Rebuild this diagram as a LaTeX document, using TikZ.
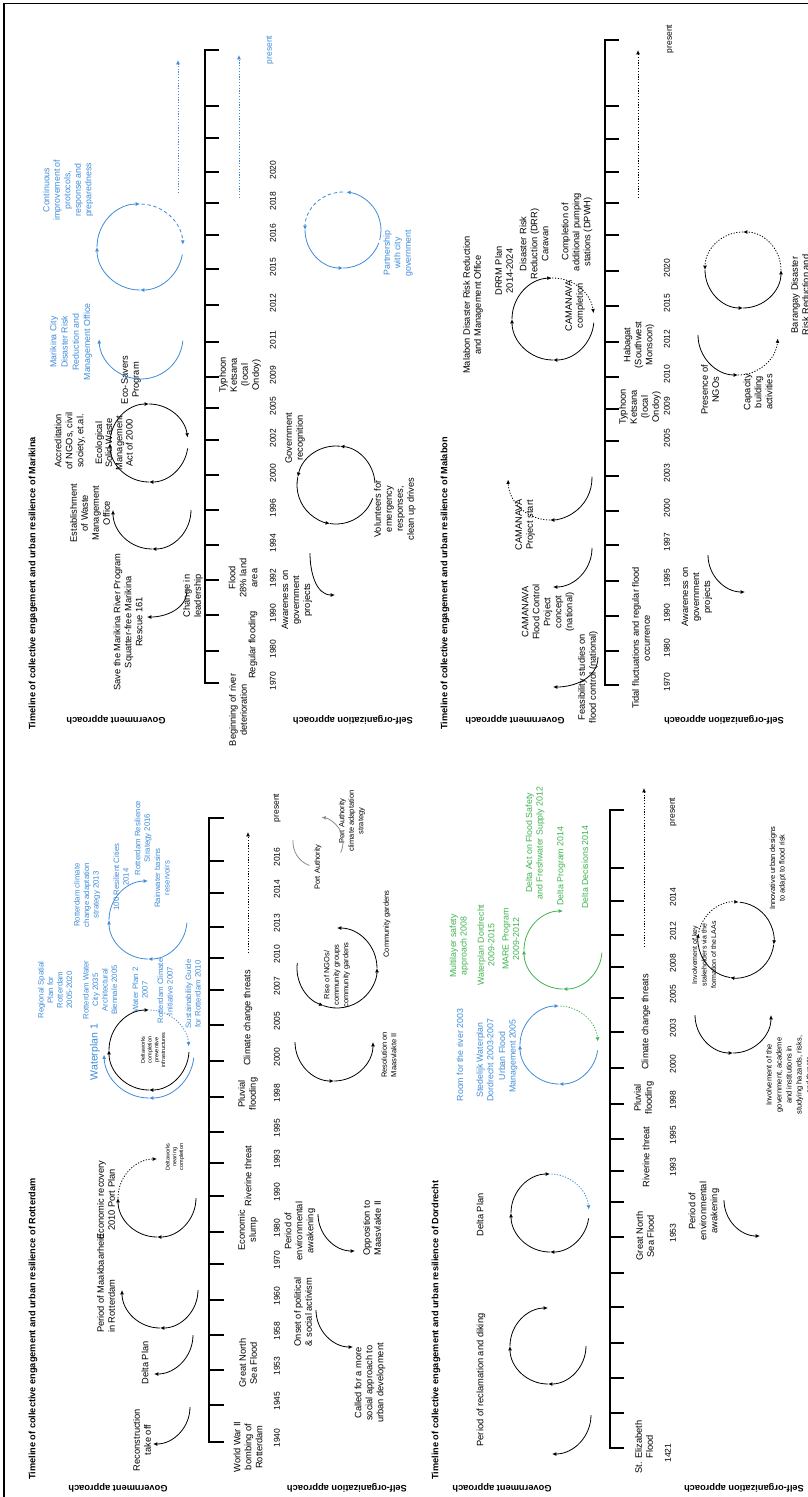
\documentclass[tikz,border=0pt]{standalone}
\usepackage{fontspec}
\setmainfont{Liberation Sans}
\usetikzlibrary{arrows.meta}
\definecolor{bl}{HTML}{3D8BD9}
\definecolor{gr}{HTML}{3EB34F}
\definecolor{gy}{HTML}{8C8C8C}
\newcommand\carc[6][]{\draw[cy,#1] (#2,-#3) ++(#5:#4) arc[start angle=#5,end angle=#6,radius=#4];}
\tikzset{
  lab/.style={font=\fontsize{9.3}{11}\selectfont, align=center, rotate=90, inner sep=0pt},
  blab/.style={lab, text=bl, font=\fontsize{8.8}{10.5}\selectfont},
  rblab/.style={lab, text=bl, font=\fontsize{7.8}{9.5}\selectfont},
  glab/.style={lab, text=gr, font=\fontsize{8.8}{10.5}\selectfont},
  slab/.style={lab, font=\fontsize{7.5}{9.5}\selectfont},
  tlab/.style={lab, font=\fontsize{5.5}{6.8}\selectfont},
  ttl/.style={font=\bfseries\fontsize{9.2}{11}\selectfont, rotate=90, inner sep=0pt},
  apr/.style={font=\bfseries\fontsize{9.3}{11}\selectfont, rotate=180, inner sep=0pt},
  yr/.style={font=\fontsize{8.5}{10}\selectfont, rotate=90, inner sep=0pt},
  axl/.style={line width=1.5pt},
  cy/.style={line width=0.8pt, -{Latex[length=4.3pt,width=3.8pt]}},
  dt/.style={dash pattern=on 1.2pt off 1.6pt},
  ds/.style={dash pattern=on 3.5pt off 2.5pt},
}
\begin{document}
\begin{tikzpicture}[x=1pt,y=1pt]
\useasboundingbox (0,0) rectangle (808,-1497);
\draw[line width=1.5pt] (4,-1497) -- (4,-3.5) -- (808,-3.5);

% ================= ROTTERDAM =================
\node[ttl,anchor=west] (Rt) at (33,-1480) {Timeline of collective engagement and urban resilience of Rotterdam};
\node[apr] (Rg) at (118,-1488) {Government approach};
\node[apr] (Rs) at (347,-1488) {Self-organization approach};
\draw[axl] (224,-1442) -- (209,-1442) -- (209,-818) -- (224,-818);
\foreach \t in {1405,1370,1335,1300,1264,1232,1196,1163,1132,1097,1061,1025,990,958,927,893,861}
  \draw[axl] (209,-\t) -- (224,-\t);
\foreach \t/\yv in {1442/1940,1405/1945,1370/1953,1335/1958,1300/1960,1264/1970,1232/1980,1196/1990,1163/1993,1132/1995,1097/1998,1061/2000,1025/2005,990/2007,958/2010,927/2013,893/2014,861/2016}
  \node[yr] (Ry\yv) at (277,-\t+4) {\yv};
\node[yr] (Rpres) at (277,-808) {present};

\node[lab] (R1) at (142,-1440) {Reconstruction\\take off};
\node[lab] (R2) at (145,-1363) {Delta Plan};
\node[lab, align=left, anchor=north west] (R3) at (97,-1333) {Period of Maakbaarheid\\in Rotterdam};
\node[lab] (R4) at (106,-1200) {Economic recovery\\2010 Port Plan};
\node[tlab] (R5) at (175,-1157) {Deltaworks\\nearing\\completion};
\node[tlab] (R6) at (153,-1050) {Deltaworks\\completion\\preventive\\infrastructures};
\node[lab, text=bl, font=\fontsize{10.5}{12}\selectfont] (R7) at (95,-1052) {Waterplan 1};
\node[rblab] (R8) at (55,-990) {Regional Spatial\\Plan for\\Rotterdam\\2005-2020};
\node[rblab] (R9) at (100,-990) {Rotterdam Water\\City 2035\\Architectural\\Biennale 2005};
\node[rblab] (R10) at (140,-990) {Water Plan 2\\2007};
\node[rblab] (R11) at (165,-991) {Rotterdam Climate\\Initiative 2007};
\node[rblab] (R12) at (193,-994) {Sustainability Guide\\for Rotterdam 2010};
\node[rblab] (R13) at (87,-895) {Rotterdam climate\\change adaptation\\strategy 2013};
\node[rblab] (R14) at (121,-877) {100 Resilient Cities\\2014};
\node[rblab] (R15) at (143,-838) {Rotterdam Resilience\\Strategy 2016};
\node[rblab] (R16) at (162,-878) {Rainwater basins\\reservoirs};

\node[lab] (R20) at (248,-1447) {World War II\\bombing of\\Rotterdam};
\node[lab] (R21) at (248,-1363) {Great North\\Sea Flood};
\node[lab] (R22) at (248,-1230) {Economic\\slump};
\node[lab] (R23) at (248,-1176) {Riverine threat};
\node[lab] (R24) at (248,-1094) {Pluvial\\flooding};
\node[lab] (R25) at (248,-1018) {Climate change threats};
\coordinate (R26a) at (248,-953); \coordinate (R26b) at (248,-832);
\draw[cy,dt] (R26a) -- (R26b);

\node[lab] (R30) at (303,-1312) {Onset of political\\\& social activism};
\node[lab] (R31) at (370,-1383) {Called for a more\\social approach to\\urban development};
\node[lab] (R32) at (300,-1231) {Period of\\environmental\\awakening};
\node[lab] (R33) at (372,-1228) {Opposition to\\Maasvlakte II};
\node[slab] (R34) at (389,-1055) {Resolution on\\Maasvlakte II};
\node[slab] (R35) at (337,-975) {Rise of NGOs/\\community groups\\community gardens};
\node[slab] (R36) at (387,-924) {Community gardens};
\node[slab] (R37) at (318,-867) {Port Authority};
\node[slab] (R38) at (352,-821) {Port Authority\\climate adaptation\\strategy};

% arcs Rotterdam government
\carc{153}{1407}{37}{0}{-90}
\carc{154}{1335}{39}{0}{-90}
\carc{160}{1290}{38}{0}{-90}
\carc{160}{1290}{38}{-90}{-180}
\carc{157}{1198}{39}{0}{-90}
\carc{157}{1198}{39}{-90}{-180}
\carc[dt]{157}{1198}{39}{180}{90}
\carc{149}{1050}{40}{-3}{-90}
\carc{149}{1050}{40}{-90}{-180}
\carc{149}{1050}{40}{-180}{-270}
\carc[bl,dt]{149}{1050}{40}{88}{5}
\carc[bl]{149}{1053}{45}{-6}{-90}
\carc[bl]{149}{1053}{45}{-90}{-178}
\carc[bl]{148}{920}{39}{-4}{-90}
\carc[bl]{148}{920}{39}{-90}{-180}
\carc[bl]{148}{920}{39}{-180}{-270}
% arcs Rotterdam self-organization
\carc{353}{1310}{37}{180}{270}
\carc{355}{1214}{37}{180}{270}
\carc{334}{1042}{39}{180}{270}
\carc{334}{1042}{39}{270}{360}
\carc{337}{968}{40}{173}{250}
\carc{337}{968}{40}{250}{360}
\carc{337}{968}{40}{0}{90}
\carc[gy,-]{318}{842}{25}{175}{250}
\carc[gy]{318}{842}{25}{-25}{82}

% ================= DORDRECHT =================
\node[ttl,anchor=west] (Dt) at (436,-1480) {Timeline of collective engagement and urban resilience of Dordrecht};
\node[apr] (Dg) at (502,-1488) {Government approach};
\node[apr] (Ds) at (744,-1488) {Self-organization approach};
\draw[axl] (624,-1448) -- (610,-1448) -- (610,-810) -- (624,-810);
\foreach \t in {1413,1378,1343,1307,1273,1237,1202,1171,1139,1104,1068,1032,998,967,935,901,868}
  \draw[axl] (610,-\t) -- (624,-\t);
\foreach \t/\yv in {1237/1953,1171/1993,1139/1995,1104/1998,1068/2000,1032/2003,998/2005,967/2008,935/2012,901/2014}
  \node[yr] (Dy\yv) at (673,-\t+4) {\yv};
\node[yr] (Dy1421) at (668,-1453) {1421};
\node[yr] (Dpres) at (673,-812) {present};

\node[lab] (D1) at (481,-1380) {Period of reclamation and diking};
\node[lab] (D2) at (480,-1215) {Delta Plan};
\node[blab] (D3) at (460,-1055) {Room for the river 2003};
\node[blab] (D4) at (485,-1060) {Stedelijk Waterplan\\Dordrecht 2003-2007};
\node[blab] (D5) at (508,-1056) {Urban Flood\\Management 2005};
\node[glab] (D6) at (459,-946) {Multilayer safety\\approach 2008};
\node[glab] (D7) at (486,-945) {Waterplan Dordrecht\\2009-2015};
\node[glab] (D8) at (511,-939) {MARE Program\\2009-2012};
\node[glab] (D9) at (535,-843) {Delta Act on Flood Safety\\and Freshwater Supply 2012};
\node[glab] (D10) at (561,-866) {Delta Program 2014};
\node[glab] (D11) at (585,-867) {Delta Decisions 2014};

\node[lab] (D20) at (644,-1447) {St. Elizabeth\\Flood};
\node[lab] (D21) at (645,-1236) {Great North\\Sea Flood};
\node[lab] (D22) at (646,-1157) {Riverine threat};
\node[lab] (D23) at (644,-1098) {Pluvial\\flooding};
\node[lab] (D24) at (646,-1022) {Climate change threats};
\coordinate (D25a) at (644,-947); \coordinate (D25b) at (644,-788);
\draw[cy,dt] (D25a) -- (D25b);

\node[lab] (D30) at (704,-1211) {Period of\\environmental\\awakening};
\node[slab, font=\fontsize{7.5}{10}\selectfont] (D31) at (789,-1075) {Involvement of the\\government, academe\\and institutions in\\studying hazards, risks,\\and threats};
\node[slab, font=\fontsize{7}{9.5}\selectfont] (D32) at (704,-955) {Involvement of key\\stakeholders via the\\formation of the LAAs};
\node[slab] (D33) at (778,-868) {Innovative urban designs\\to adapt to flood risk};

% arcs Dordrecht government
\carc{552}{1415}{39}{0}{-90}
\carc{548}{1346}{38}{0}{-90}
\carc{548}{1346}{38}{-90}{-180}
\carc{548}{1346}{38}{-180}{-270}
\carc{550}{1213}{39}{-8}{-90}
\carc{550}{1213}{39}{-90}{-180}
\carc{550}{1213}{39}{-180}{-270}
\carc[bl,dt]{550}{1213}{39}{88}{5}
\carc[bl]{559}{1045}{39}{-8}{-90}
\carc[bl]{559}{1045}{39}{-90}{-180}
\carc[bl]{559}{1045}{39}{-180}{-270}
\carc[gr,dt]{559}{1045}{39}{88}{5}
\carc[gr]{563}{950}{39}{-4}{-90}
\carc[gr]{563}{950}{39}{-90}{-180}
\carc[gr]{563}{950}{39}{-180}{-270}
% arcs Dordrecht self-organization
\carc{760}{1200}{36}{180}{270}
\carc{733}{1015}{38}{180}{270}
\carc{733}{1015}{38}{270}{360}
\carc[dt]{736}{940}{38}{168}{86}
\carc{736}{940}{38}{84}{-7}
\carc{736}{940}{38}{-7}{-99}
\carc{736}{940}{38}{-99}{-190}

% ================= MARIKINA =================
\node[ttl,anchor=west] (Mt) at (33,-730) {Timeline of collective engagement and urban resilience of Marikina};
\node[apr] (Mg) at (116,-720) {Government approach};
\node[apr] (Ms) at (353,-720) {Self-organization approach};
\draw[axl] (219,-683) -- (205,-683) -- (205,-50) -- (219,-50);
\foreach \t in {651,615,580,545,510,475,440,408,377,342,305,269,235,203,172,138,106}
  \draw[axl] (205,-\t) -- (219,-\t);
\foreach \t/\yv in {683/1970,651/1980,615/1990,580/1992,545/1994,510/1996,475/2000,440/2002,408/2005,377/2009,342/2011,305/2012,269/2015,235/2016,203/2018,172/2020}
  \node[yr] (My\yv) at (273,-\t+2) {\yv};
\node[yr, text=bl] (Mpres) at (270,-50) {present};

\node[lab] (M1) at (128,-622) {Save the Marikina River Program\\Squatter-free Marikina\\Rescue 161};
\node[lab] (M2) at (90,-513) {Establishment\\of Waste\\Management\\Office};
\node[lab] (M3) at (70,-441) {Accreditation\\of NGOs, civil\\society, et.al.};
\node[lab, font=\fontsize{9.3}{10.2}\selectfont] (M4) at (114,-443) {Ecological\\Solid Waste\\Management\\Act of 2000};
\node[lab] (M5) at (131,-380) {Eco-Savers\\Program};
\node[blab, font=\fontsize{8.8}{11.3}\selectfont] (M6) at (71,-342) {Marikina City\\Disaster Risk\\Reduction and\\Management Office};
\node[blab] (M7) at (68,-190) {Continuous\\improvement of\\protocols,\\response and\\preparedness};

\node[lab] (M20) at (238,-710) {Beginning of river\\deterioration};
\node[lab] (M21) at (253,-645) {Regular flooding};
\node[lab] (M22) at (243,-578) {Flood\\28\% land\\area};
\node[lab] (M23) at (193,-596) {Change in\\leadership};
\node[lab] (M24) at (240,-375) {Typhoon\\Ketsana\\(local\\Ondoy)};
\coordinate (M25a) at (178,-193); \coordinate (M25b) at (178,-60);
\draw[cy,dt,bl] (M25a) -- (M25b);
\coordinate (M26a) at (239,-198); \coordinate (M26b) at (239,-55);
\draw[cy,dt,bl] (M26a) -- (M26b);

\node[lab] (M30) at (297,-600) {Awareness on\\government\\projects};
\node[lab] (M31) at (395,-509) {Volunteers for\\emergency\\responses,\\clean up drives};
\node[lab] (M32) at (295,-438) {Government\\recognition};
\node[blab] (M33) at (398,-253) {Partnership\\with city\\government};

% arcs Marikina government
\coordinate (M40a) at (187,-590); \coordinate (M40b) at (147,-617);
\draw[cy] (M40a) to[out=-90,in=0] (M40b);
\carc{152}{510}{39}{0}{-90}
\carc{152}{510}{39}{-90}{-180}
\carc{149}{443}{39}{-8}{-90}
\carc{149}{443}{39}{-90}{-180}
\carc{149}{443}{39}{-180}{-270}
\carc{149}{443}{39}{-270}{-352}
\carc[bl,-]{141}{337}{42}{-5}{-90}
\carc[bl]{141}{337}{42}{-90}{-177}
\carc[bl]{140}{247}{43}{-10}{-90}
\carc[bl]{140}{247}{43}{-90}{-180}
\carc[bl]{140}{247}{43}{-180}{-270}
\carc[bl,ds]{140}{247}{43}{88}{3}
% arcs Marikina self-organization
\coordinate (M41a) at (310,-553); \coordinate (M41b) at (335,-595);
\draw[cy] (M41a) to[out=-90,in=180] (M41b);
\carc{336}{485}{39}{3}{84}
\carc{336}{485}{39}{84}{168}
\carc{336}{485}{39}{168}{261}
\carc[-]{336}{485}{39}{261}{340}
\carc[bl]{343}{230}{38}{-15}{85}
\carc[bl,ds]{343}{230}{38}{90}{180}
\carc[bl]{343}{230}{38}{180}{270}
\carc[bl,-]{343}{230}{38}{270}{340}

% ================= MALABON =================
\node[ttl,anchor=west] (Lt) at (445,-730) {Timeline of collective engagement and urban resilience of Malabon};
\node[apr] (Lg) at (515,-720) {Government approach};
\node[apr] (Ls) at (724,-720) {Self-organization approach};
\draw[axl] (619,-685) -- (605,-685) -- (605,-40) -- (619,-40);
\foreach \t in {651,616,581,545,511,476,441,409,377,342,306,271,235,203,172,139,106}
  \draw[axl] (605,-\t) -- (619,-\t);
\foreach \t/\yv in {685/1970,651/1980,616/1990,581/1995,545/1997,511/2000,476/2003,441/2005,409/2009,377/2010,342/2012,306/2015,271/2020}
  \node[yr] (Ly\yv) at (667,-\t+3) {\yv};
\node[yr] (Lpres) at (670,-39) {present};

\node[lab] (L1) at (588,-677) {Feasibility studies on\\flood control (national)};
\node[lab] (L2) at (548,-612) {CAMANAVA\\Flood Control\\Project\\concept\\(national)};
\node[lab] (L3) at (525,-525) {CAMANAVA\\Project start};
\node[lab] (L4) at (473,-305) {Malabon Disaster Risk Reduction\\and Management Office};
\node[lab] (L5) at (504,-271) {DRRM Plan\\2014-2024};
\node[lab] (L6) at (534,-244) {Disaster Risk\\Reduction (DRR)\\Caravan};
\node[lab] (L7) at (575,-306) {CAMANAVA\\completion};
\node[lab] (L8) at (577,-232) {Completion of\\additional pumping\\stations (DPWH)};

\node[lab] (L20) at (641,-638) {Tidal fluctuations and regular flood\\occurrence};
\node[lab] (L21) at (640,-407) {Typhoon\\Ketsana\\(local\\Ondoy)};
\node[lab] (L22) at (639,-345) {Habagat\\(Southwest\\Monsoon)};
\coordinate (L23a) at (638,-198); \coordinate (L23b) at (638,-50);
\draw[cy,dt] (L23a) -- (L23b);

\node[lab] (L30) at (697,-597) {Awareness on\\government\\projects};
\node[lab] (L31) at (710,-390) {Presence of\\NGOs};
\node[lab] (L32) at (758,-392) {Capacity\\building\\activities};
\node[lab] (L33) at (800,-295) {Barangay Disaster\\Risk Reduction and};

% arcs Malabon government
\coordinate (L40a) at (598,-657); \coordinate (L40b) at (553,-687);
\draw[cy] (L40a) to[out=-90,in=0] (L40b);
\carc{553}{548}{39}{0}{-90}
\carc{550}{478}{42}{2}{-90}
\carc[dt]{550}{478}{42}{-90}{-178}
\carc{553}{319}{41}{-5}{-90}
\carc{553}{319}{41}{-90}{-180}
\carc{553}{319}{41}{-180}{-268}
\carc[dt]{553}{319}{41}{95}{8}
% arcs Malabon self-organization
\carc{745}{555}{37}{180}{270}
\carc{738}{335}{40}{180}{270}
\carc[dt]{738}{335}{40}{270}{355}
\carc{743}{270}{38}{180}{270}
\carc{743}{270}{38}{270}{360}
\carc[dt]{743}{270}{38}{0}{90}
\carc[dt]{743}{270}{38}{90}{180}
\end{tikzpicture}
\end{document}
